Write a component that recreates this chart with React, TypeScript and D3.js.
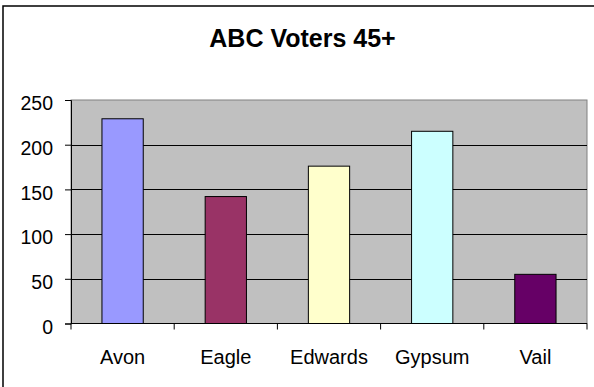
import React, { useRef, useEffect } from 'react';
import * as d3 from 'd3';

// chart data
const towns = ['Avon', 'Eagle', 'Edwards', 'Gypsum', 'Vail'];
const voters = [229, 142, 176, 215, 55];
const barColors = ['#9999ff', '#993366', '#ffffcc', '#ccffff', '#660066'];
const yTicks = [0, 50, 100, 150, 200, 250];
const chartTitle = 'ABC Voters 45+';

const W = 594;
const H = 387;

const App: React.FC = () => {
  const svgRef = useRef<SVGSVGElement>(null);

  useEffect(() => {
    if (!svgRef.current) return;
    const svg = d3.select(svgRef.current);
    svg.selectAll('*').remove();

    const plot = { left: 71, right: 587, top: 100, bottom: 323.5 };
    const font = 'Liberation Sans, Arial, sans-serif';

    // outer chart border (runs off the right and bottom of the picture)
    svg.append('rect')
      .attr('x', 3).attr('y', 6)
      .attr('width', W + 20).attr('height', H + 20)
      .attr('fill', 'white')
      .attr('stroke', 'black')
      .attr('stroke-width', 1.5);

    svg.append('text')
      .attr('x', 302.5)
      .attr('y', 46.5)
      .attr('text-anchor', 'middle')
      .style('font-family', font)
      .style('font-size', '25px')
      .style('font-weight', 'bold')
      .text(chartTitle);

    const x = d3.scaleBand<string>()
      .domain(towns)
      .range([plot.left, plot.right])
      .paddingInner(0.6)
      .paddingOuter(0.3);

    const y = d3.scaleLinear()
      .domain([0, 250])
      .range([plot.bottom, plot.top]);

    // grey plot area
    svg.append('rect')
      .attr('x', plot.left).attr('y', plot.top)
      .attr('width', plot.right - plot.left)
      .attr('height', plot.bottom - plot.top)
      .attr('fill', '#c0c0c0')
      .attr('stroke', '#808080')
      .attr('stroke-width', 1);

    // gridlines
    svg.append('g')
      .selectAll('line')
      .data(yTicks.filter(t => t > 0 && t < 250))
      .join('line')
      .attr('x1', plot.left).attr('x2', plot.right)
      .attr('y1', d => Math.round(y(d)) + 0.5)
      .attr('y2', d => Math.round(y(d)) + 0.5)
      .attr('stroke', 'black')
      .attr('stroke-width', 1);

    // bars
    svg.append('g')
      .selectAll('rect')
      .data(voters)
      .join('rect')
      .attr('x', (_, i) => x(towns[i]) as number)
      .attr('y', d => y(d))
      .attr('width', x.bandwidth())
      .attr('height', d => y(0) - y(d))
      .attr('fill', (_, i) => barColors[i])
      .attr('stroke', 'black')
      .attr('stroke-width', 1);

    // y axis
    const yAxis = d3.axisLeft(y)
      .tickValues(yTicks)
      .tickSize(6)
      .tickPadding(12)
      .tickFormat(d => String(d));
    const gy = svg.append('g')
      .attr('transform', `translate(${plot.left},0)`)
      .call(yAxis);
    gy.select('.domain').attr('stroke', 'black');
    gy.selectAll('.tick line').attr('stroke', 'black');
    gy.selectAll('.tick text')
      .attr('dy', '0.5em')
      .style('font-family', font)
      .style('font-size', '19.5px')
      .attr('fill', 'black');

    // x axis: ticks on category boundaries
    const boundaries = d3.range(towns.length + 1)
      .map(i => plot.left + (i * (plot.right - plot.left)) / towns.length);
    const gx = svg.append('g');
    gx.append('line')
      .attr('x1', plot.left).attr('x2', plot.right)
      .attr('y1', plot.bottom).attr('y2', plot.bottom)
      .attr('stroke', 'black')
      .attr('stroke-width', 1.2);
    gx.selectAll('line.tk')
      .data(boundaries)
      .join('line')
      .attr('class', 'tk')
      .attr('x1', d => d).attr('x2', d => d)
      .attr('y1', plot.bottom).attr('y2', plot.bottom + 6)
      .attr('stroke', 'black');
    gx.selectAll('text')
      .data(towns)
      .join('text')
      .attr('x', d => (x(d) as number) + x.bandwidth() / 2)
      .attr('y', 364)
      .attr('text-anchor', 'middle')
      .style('font-family', font)
      .style('font-size', '20px')
      .text(d => d);
  }, []);

  return (
    <div style={{ position: 'absolute', left: 0, top: 0 }}>
      <svg ref={svgRef} width={W} height={H} style={{ display: 'block' }} />
    </div>
  );
};

export default App;
